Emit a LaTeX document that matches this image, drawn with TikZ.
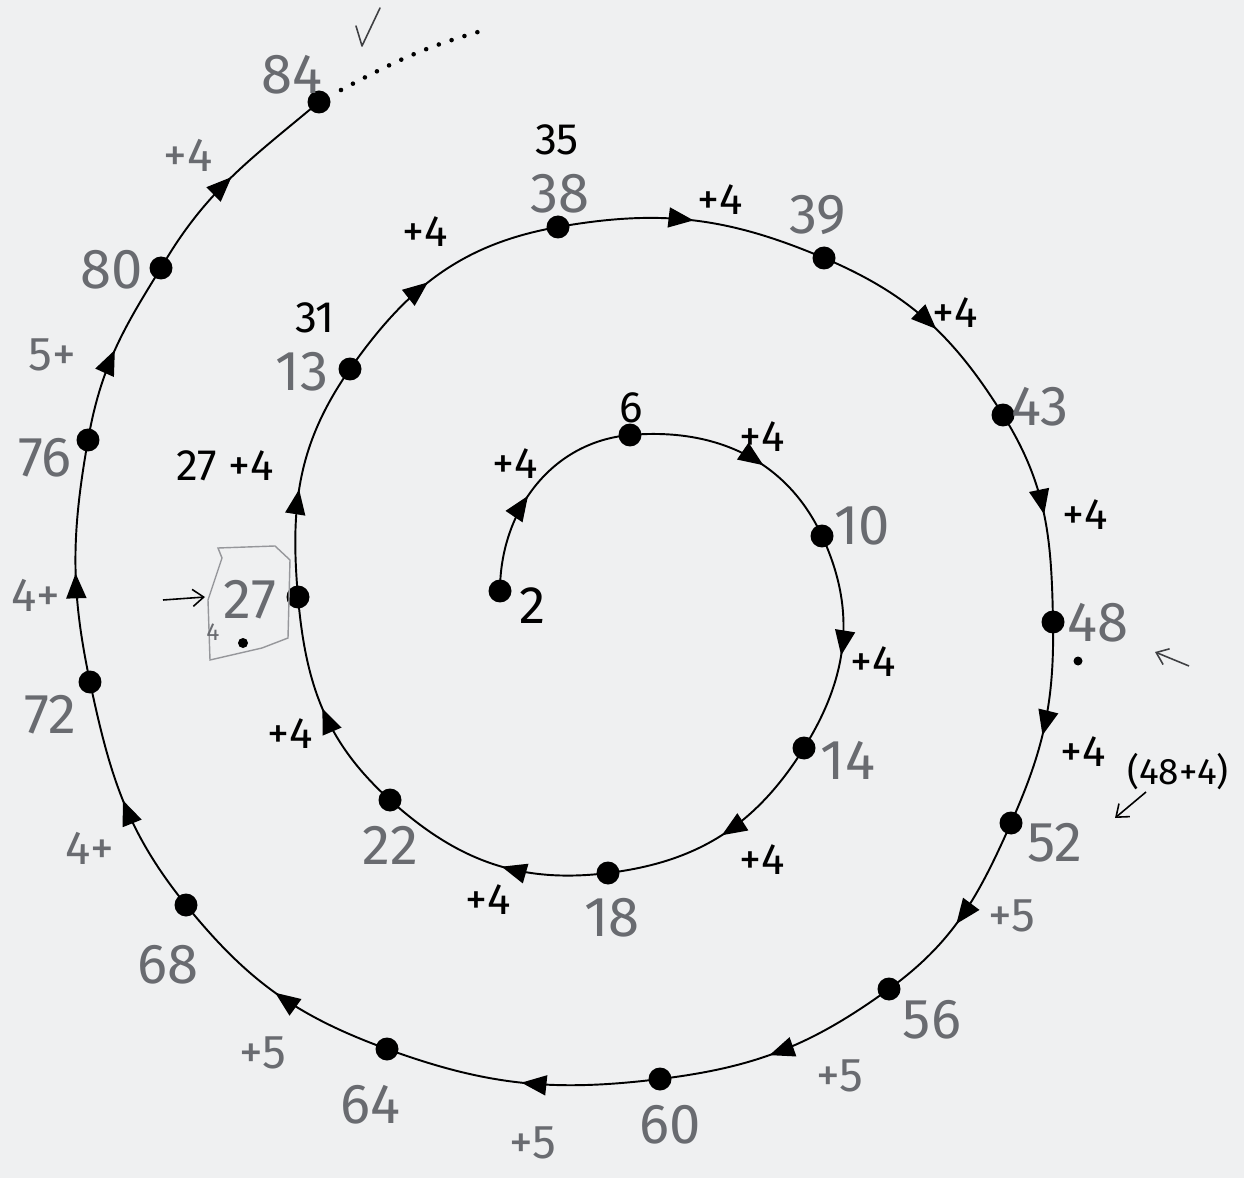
\documentclass[tikz,border=0pt]{standalone}
\usepackage{fontspec}
\setmainfont{Fira Sans}
\usetikzlibrary{arrows.meta,decorations.markings}
\definecolor{paper}{RGB}{239,240,241}
\definecolor{pencil}{RGB}{105,107,112}
\tikzset{
  dot/.style={circle,fill=black,inner sep=0pt,minimum size=0.46cm},
  seg/.style={line width=1.1pt,postaction={decorate},
    decoration={markings,mark=at position #1 with {\arrow{Triangle[length=0.5cm,width=0.4cm]}}}},
  seg/.default=0.5,
  ink/.style={font=\fontsize{25}{27}\selectfont,text=black,inner sep=1pt},
  pen/.style={font=\fontsize{32}{34}\selectfont,text=pencil,inner sep=1pt},
  pensm/.style={font=\fontsize{27}{29}\selectfont,text=pencil,inner sep=1pt},
  mark line/.style={line width=0.9pt,-{Straight Barb[length=0.22cm,width=0.34cm]}}
}
\begin{document}
\begin{tikzpicture}[x=0.02cm,y=0.02cm]
\fill[paper] (0,0) rectangle (1244,1178);
\useasboundingbox (0,0) rectangle (1244,1178);
% points of the spiral
\node[dot] (n2)  at (500,587) {};
\node[dot] (n6)  at (630,743) {};
\node[dot] (n10) at (822,642) {};
\node[dot] (n14) at (804,430) {};
\node[dot] (n18) at (608,305) {};
\node[dot] (n22) at (390,378) {};
\node[dot] (n27) at (298,581) {};
\node[dot] (n31) at (350,809) {};
\node[dot] (n35) at (558,951) {};
\node[dot] (n39) at (824,920) {};
\node[dot] (n43) at (1003,763) {};
\node[dot] (n48) at (1053,556) {};
\node[dot] (n52) at (1011,355) {};
\node[dot] (n56) at (889,189) {};
\node[dot] (n60) at (660,99) {};
\node[dot] (n64) at (387,129) {};
\node[dot] (n68) at (186,273) {};
\node[dot] (n72) at (90,496) {};
\node[dot] (n76) at (88,738) {};
\node[dot] (n80) at (161,910) {};
\node[dot] (n84) at (319,1076) {};
\coordinate (dend) at (478,1146);
% spiral segments
\draw[seg=0.45] (n2.center)  to[out=90,in=185]  (n6.center);
\draw[seg=0.6]  (n6.center)  to[out=5,in=115]   (n10.center);
\draw[seg=0.55] (n10.center) to[out=-65,in=58]  (n14.center);
\draw[seg=0.5]  (n14.center) to[out=-122,in=7]  (n18.center);
\draw[seg=0.45] (n18.center) to[out=187,in=-42] (n22.center);
\draw[seg=0.5]  (n22.center) to[out=138,in=-85] (n27.center);
\draw[seg=0.45] (n27.center) to[out=95,in=235]  (n31.center);
\draw[seg=0.45] (n31.center) to[out=55,in=190]  (n35.center);
\draw[seg=0.5]  (n35.center) to[out=10,in=157]  (n39.center);
\draw[seg=0.55] (n39.center) to[out=-23,in=122] (n43.center);
\draw[seg=0.5]  (n43.center) to[out=-58,in=91]  (n48.center);
\draw[seg=0.55] (n48.center) to[out=-89,in=66]  (n52.center);
\draw[seg=0.55] (n52.center) to[out=-114,in=36] (n56.center);
\draw[seg=0.55] (n56.center) to[out=216,in=7]   (n60.center);
\draw[seg=0.5]  (n60.center) to[out=187,in=-20] (n64.center);
\draw[seg=0.5]  (n64.center) to[out=160,in=-51] (n68.center);
\draw[seg=0.5]  (n68.center) to[out=129,in=-78] (n72.center);
\draw[seg=0.45] (n72.center) to[out=102,in=-100](n76.center);
\draw[seg=0.5]  (n76.center) to[out=80,in=-122] (n80.center);
\draw[seg=0.5]  (n80.center) to[out=60,in=-140] (n84.center);
\draw[line width=2.6pt,line cap=round,dash pattern=on 0pt off 0.27cm]
  ([shift={(22,12)}]n84.center) to[out=28,in=196] (dend);
% printed (ink) labels
\node[ink,font=\fontsize{30}{32}\selectfont] (l2) at (533,572) {2};
\node[ink] (l6) at (631,770) {6};
\node[ink] (p1) at (515,714) {+4};
\node[ink] (p2) at (762,741) {+4};
\node[ink] (p3) at (873,516) {+4};
\node[ink] (p4) at (762,318) {+4};
\node[ink] (p5) at (488,278) {+4};
\node[ink] (p6) at (290,444) {+4};
\node[ink] (p7) at (225,712) {27 +4};
\node[ink] (l31) at (315,860) {31};
\node[ink] (p8) at (425,946) {+4};
\node[ink] (l35) at (557,1038) {35};
\node[ink] (p9) at (720,978) {+4};
\node[ink] (p10) at (955,865) {+4};
\node[ink] (p11) at (1085,663) {+4};
\node[ink] (p12) at (1083,426) {+4};
\node[ink,font=\fontsize{21}{23}\selectfont] (p13) at (1178,406) {(48+4)};
% pencil labels
\node[pen] (l10) at (862,652) {10};
\node[pen] (l14) at (848,418) {14};
\node[pen] (l18) at (612,260) {18};
\node[pen] (l22) at (390,333) {22};
\node[pen] (l27) at (250,578) {27};
\node[pen] (l13) at (302,806) {13};
\node[pen] (l38) at (560,984) {38};
\node[pen] (l39) at (818,963) {39};
\node[pen] (l43) at (1040,771) {43};
\node[pen] (l48) at (1098,555) {48};
\node[pen] (l52) at (1055,335) {52};
\node[pen] (l56) at (932,158) {56};
\node[pen] (l60) at (670,53) {60};
\node[pen] (l64) at (370,73) {64};
\node[pen] (l68) at (168,213) {68};
\node[pen] (l72) at (50,463) {72};
\node[pen] (l76) at (45,720) {76};
\node[pen] (l80) at (112,908) {80};
\node[pen] (l84) at (292,1103) {84};
\node[pensm] (q1) at (1012,262) {+5};
\node[pensm] (q2) at (840,102) {+5};
\node[pensm] (q3) at (533,35) {+5};
\node[pensm] (q4) at (263,125) {+5};
\node[pensm] (q5) at (90,330) {4+};
\node[pensm] (q6) at (36,583) {4+};
\node[pensm] (q7) at (52,823) {5+};
\node[pensm] (q8) at (188,1023) {+4};
% pencil box around 27
\draw[pencil!70,line width=0.8pt] (218,630) -- (275,632) -- (290,618) -- (288,540) -- (262,530) -- (210,518) -- (208,578) -- (222,620) -- cycle;
\node[pencil,font=\fontsize{14}{16}\selectfont,inner sep=0pt] (s4) at (213,546) {4};
\fill (243,535) circle (5);
\fill (1078,517) circle (4.5);
% hand-drawn arrows and tick
\coordinate (a1s) at (163,578); \coordinate (a1e) at (205,581);
\draw[mark line] (a1s) -- (a1e);
\coordinate (a2s) at (1189,512); \coordinate (a2e) at (1155,526);
\draw[mark line,pencil!60!black] (a2s) -- (a2e);
\coordinate (a3s) at (1146,386); \coordinate (a3e) at (1115,360);
\draw[mark line] (a3s) -- (a3e);
\coordinate (t1) at (356,1152); \coordinate (t2) at (362,1132); \coordinate (t3) at (380,1170);
\draw[pencil!60!black,line width=0.9pt,line cap=round,line join=round] (t1) -- (t2) -- (t3);
\end{tikzpicture}
\end{document}
